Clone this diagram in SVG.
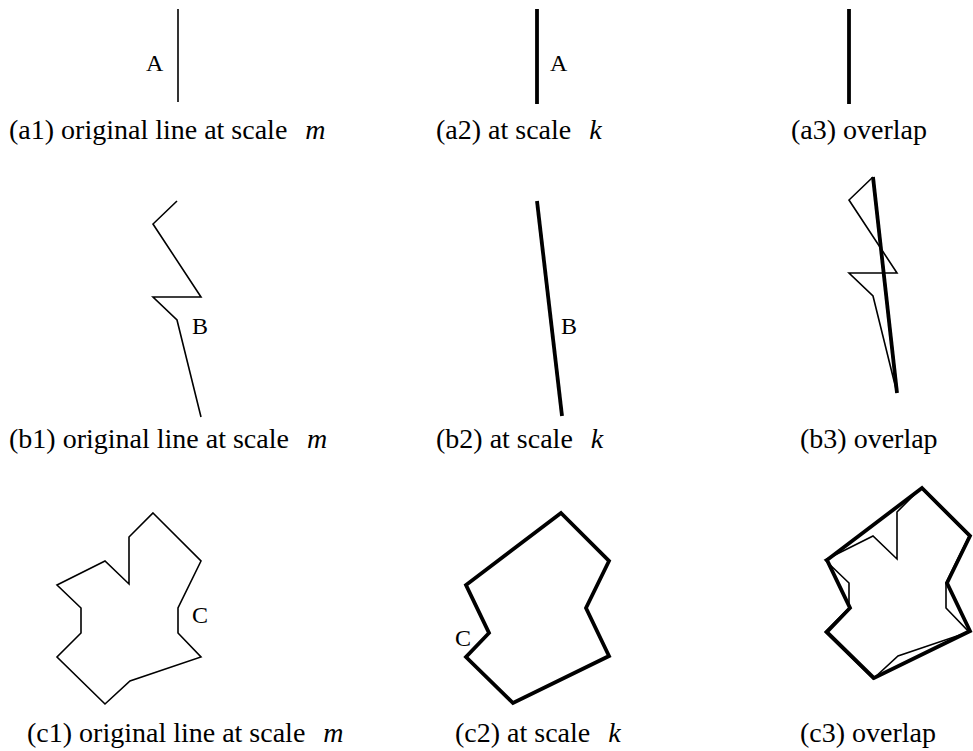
<svg xmlns="http://www.w3.org/2000/svg" width="973" height="751" viewBox="0 0 973 751">
<style>
.thin{fill:none;stroke:#000;stroke-width:1.6;stroke-linejoin:miter}
.thick{fill:none;stroke:#000;stroke-width:3.8;stroke-linejoin:miter}
.lbl{font-family:"Liberation Serif","Times New Roman",serif;font-size:24px;fill:#000}
.cap{font-family:"Liberation Serif","Times New Roman",serif;font-size:28px;fill:#000}
.it{font-style:italic}
</style>
<rect width="973" height="751" fill="#fff"/>
<g id="a1">
<line class="thin" x1="178" y1="9" x2="178" y2="102"/>
<text class="lbl" x="146" y="71">A</text>
<text class="cap" x="9" y="139">(a1) original line at scale<tspan class="it" dx="18">m</tspan></text>
</g>
<g id="a2">
<line class="thick" x1="537" y1="9" x2="537" y2="104"/>
<text class="lbl" x="550" y="71">A</text>
<text class="cap" x="436" y="139">(a2) at scale<tspan class="it" dx="18">k</tspan></text>
</g>
<g id="a3">
<line class="thick" x1="849" y1="9" x2="849" y2="104"/>
<text class="cap" x="791" y="139">(a3) overlap</text>
</g>
<g id="b1">
<polyline class="thin" points="177,201 153,224 201,297 153,297 177,320 201,417"/>
<text class="lbl" x="192" y="334">B</text>
<text class="cap" x="9" y="448">(b1) original line at scale<tspan class="it" dx="18">m</tspan></text>
</g>
<g id="b2">
<line class="thick" x1="537" y1="201" x2="562" y2="416"/>
<text class="lbl" x="561" y="334">B</text>
<text class="cap" x="436" y="448">(b2) at scale<tspan class="it" dx="18">k</tspan></text>
</g>
<g id="b3">
<polyline class="thin" points="873,177 849,200 897,273 849,273 873,296 897,393"/>
<line class="thick" x1="873" y1="177" x2="897" y2="393"/>
<text class="cap" x="800" y="448">(b3) overlap</text>
</g>
<g id="c1">
<polygon class="thin" points="153,513 201,561 178,608 178,633 201,657 130,681 105,704 57,657 81,633 81,608 57,585 105,561 129,584 129,537"/>
<text class="lbl" x="192" y="623">C</text>
<text class="cap" x="27" y="742">(c1) original line at scale<tspan class="it" dx="18">m</tspan></text>
</g>
<g id="c2">
<polygon class="thick" points="561,513 609,561 586,608 609,656 513,703 466,657 489,633 466,585"/>
<text class="lbl" x="455" y="646">C</text>
<text class="cap" x="455" y="742">(c2) at scale<tspan class="it" dx="18">k</tspan></text>
</g>
<g id="c3">
<polygon class="thin" points="921,488 969,536 946,583 946,608 969,632 898,656 873,679 825,632 849,608 849,583 825,560 873,536 897,559 897,512"/>
<polygon class="thick" points="922,488 970,536 947,583 970,631 874,678 827,632 850,608 827,560"/>
<text class="cap" x="800" y="742">(c3) overlap</text>
</g>
<g id="connectors"/>
</svg>
